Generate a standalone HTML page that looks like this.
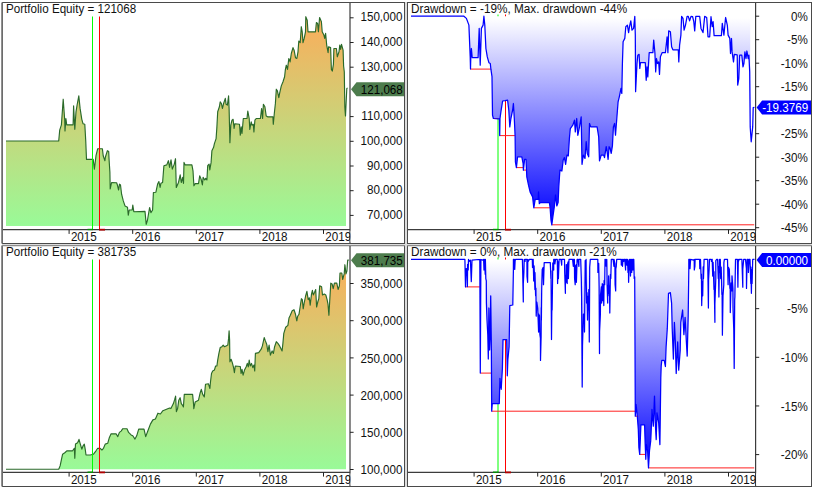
<!DOCTYPE html>
<html><head><meta charset="utf-8"><title>Portfolio charts</title>
<style>html,body{margin:0;padding:0;background:#fff;}body{width:814px;height:490px;overflow:hidden;font-family:"Liberation Sans",sans-serif;}svg{display:block;}text{font-family:"Liberation Sans",sans-serif;}</style></head><body>
<svg width="814" height="490" viewBox="0 0 814 490">
<defs>
<linearGradient id="gE1" gradientUnits="userSpaceOnUse" x1="0" y1="10" x2="0" y2="226"><stop offset="0" stop-color="#ffaa58"/><stop offset="1" stop-color="#99fa98"/></linearGradient>
<linearGradient id="gE2" gradientUnits="userSpaceOnUse" x1="0" y1="253" x2="0" y2="469"><stop offset="0" stop-color="#ffaa58"/><stop offset="1" stop-color="#99fa98"/></linearGradient>
<linearGradient id="gD1" gradientUnits="userSpaceOnUse" x1="0" y1="18" x2="0" y2="224"><stop offset="0" stop-color="#ffffff"/><stop offset="1" stop-color="#0000ff"/></linearGradient>
<linearGradient id="gD2" gradientUnits="userSpaceOnUse" x1="0" y1="261" x2="0" y2="468"><stop offset="0" stop-color="#ffffff"/><stop offset="1" stop-color="#0000ff"/></linearGradient>
</defs>
<rect x="0" y="0" width="814" height="490" fill="#fff"/>
<rect x="404" y="2" width="4" height="485" fill="#dcdcdc"/>
<rect x="2" y="243" width="810" height="3" fill="#dcdcdc"/>
<rect x="2.5" y="2.5" width="402" height="241" fill="#fff" stroke="#4a4a4a" stroke-width="1"/>
<line x1="2.1" y1="2.5" x2="2.1" y2="243.5" stroke="#6e6e6e" stroke-width="1.7"/>
<polygon points="6.0,141.0 58.7,141.0 59.7,130.2 61.4,124.8 63.2,99.2 64.7,120.0 65.0,131.0 65.9,118.5 66.7,124.8 73.1,124.8 73.6,105.9 74.8,129.3 76.0,111.8 77.1,105.0 78.8,95.9 80.1,108.4 81.8,119.3 83.1,123.8 84.8,124.3 85.7,140.0 86.5,159.4 93.2,159.4 94.4,169.1 96.0,155.7 97.7,148.7 102.4,148.7 103.2,155.7 104.9,160.7 105.4,157.0 107.4,150.7 108.7,151.5 109.1,159.9 109.9,172.4 110.2,189.0 111.6,182.5 116.6,182.8 117.4,185.0 118.6,190.0 119.5,184.1 120.5,185.0 121.6,194.2 123.3,200.9 125.0,205.9 127.5,207.2 128.3,215.1 129.2,210.0 132.2,210.0 132.8,205.0 133.8,211.7 145.0,211.4 146.2,224.3 147.5,220.0 149.6,207.5 150.9,212.6 152.6,210.0 153.4,192.5 155.9,192.2 157.6,184.1 158.9,181.6 160.1,187.5 160.9,183.3 162.6,182.5 163.9,165.7 166.8,164.9 168.4,160.7 169.6,167.4 171.0,159.9 172.3,169.1 174.3,164.1 175.5,158.7 176.3,187.5 178.5,182.5 180.2,174.9 181.3,182.5 182.7,177.4 183.5,183.3 184.0,162.4 185.2,164.9 191.9,164.9 193.0,170.8 193.9,185.8 195.2,183.6 198.5,183.6 199.7,175.8 201.1,179.1 202.4,185.0 203.1,177.4 204.7,180.0 205.7,178.3 206.9,180.0 207.7,165.7 209.1,164.1 209.8,169.9 211.1,162.4 211.9,150.7 213.6,147.3 214.4,143.6 216.1,138.6 216.9,126.9 217.7,111.8 219.4,106.8 220.2,101.8 221.4,103.5 222.4,108.5 223.6,103.5 225.3,98.4 226.1,104.3 227.4,105.1 228.6,95.9 229.1,108.5 229.9,142.7 230.8,125.2 232.0,120.2 233.1,119.3 234.1,128.5 234.8,123.8 239.5,124.3 240.3,135.2 241.2,126.9 242.0,133.5 243.3,118.5 247.0,118.5 247.8,111.0 249.2,118.5 249.8,129.4 251.2,121.8 252.0,125.2 253.3,124.3 253.9,131.9 254.9,120.2 256.2,118.5 260.4,118.5 261.6,108.5 262.6,118.5 263.4,104.3 264.9,106.8 266.2,116.0 267.6,116.8 272.9,116.8 273.3,124.3 274.3,113.5 275.4,103.4 276.3,89.2 277.4,90.9 278.8,97.6 279.6,93.4 281.3,85.9 283.0,81.7 284.6,76.7 285.4,69.4 286.3,65.2 287.5,69.4 288.8,58.5 290.1,61.9 291.3,53.5 293.0,47.6 294.1,50.2 295.5,57.7 296.8,58.5 298.0,51.8 298.8,41.0 300.2,42.6 301.3,26.7 302.2,31.8 303.0,42.6 304.2,38.4 305.5,31.8 305.8,16.7 307.2,20.1 308.0,31.8 315.5,31.8 316.4,22.6 317.6,23.4 318.4,31.8 319.6,17.5 321.4,21.7 322.2,31.8 323.9,35.1 324.7,38.4 325.6,33.4 326.7,45.1 328.1,52.7 328.6,46.8 330.6,47.6 331.4,69.4 332.3,71.1 333.4,64.4 333.9,48.5 336.4,48.5 337.3,56.8 339.0,51.8 339.8,45.1 340.6,49.3 341.5,44.3 343.1,50.2 343.6,66.0 344.3,71.9 344.8,106.9 345.5,116.0 346.0,105.2 346.0,226.0 6.0,226.0" fill="url(#gE1)"/>
<polyline points="6.0,141.0 58.7,141.0 59.7,130.2 61.4,124.8 63.2,99.2 64.7,120.0 65.0,131.0 65.9,118.5 66.7,124.8 73.1,124.8 73.6,105.9 74.8,129.3 76.0,111.8 77.1,105.0 78.8,95.9 80.1,108.4 81.8,119.3 83.1,123.8 84.8,124.3 85.7,140.0 86.5,159.4 93.2,159.4 94.4,169.1 96.0,155.7 97.7,148.7 102.4,148.7 103.2,155.7 104.9,160.7 105.4,157.0 107.4,150.7 108.7,151.5 109.1,159.9 109.9,172.4 110.2,189.0 111.6,182.5 116.6,182.8 117.4,185.0 118.6,190.0 119.5,184.1 120.5,185.0 121.6,194.2 123.3,200.9 125.0,205.9 127.5,207.2 128.3,215.1 129.2,210.0 132.2,210.0 132.8,205.0 133.8,211.7 145.0,211.4 146.2,224.3 147.5,220.0 149.6,207.5 150.9,212.6 152.6,210.0 153.4,192.5 155.9,192.2 157.6,184.1 158.9,181.6 160.1,187.5 160.9,183.3 162.6,182.5 163.9,165.7 166.8,164.9 168.4,160.7 169.6,167.4 171.0,159.9 172.3,169.1 174.3,164.1 175.5,158.7 176.3,187.5 178.5,182.5 180.2,174.9 181.3,182.5 182.7,177.4 183.5,183.3 184.0,162.4 185.2,164.9 191.9,164.9 193.0,170.8 193.9,185.8 195.2,183.6 198.5,183.6 199.7,175.8 201.1,179.1 202.4,185.0 203.1,177.4 204.7,180.0 205.7,178.3 206.9,180.0 207.7,165.7 209.1,164.1 209.8,169.9 211.1,162.4 211.9,150.7 213.6,147.3 214.4,143.6 216.1,138.6 216.9,126.9 217.7,111.8 219.4,106.8 220.2,101.8 221.4,103.5 222.4,108.5 223.6,103.5 225.3,98.4 226.1,104.3 227.4,105.1 228.6,95.9 229.1,108.5 229.9,142.7 230.8,125.2 232.0,120.2 233.1,119.3 234.1,128.5 234.8,123.8 239.5,124.3 240.3,135.2 241.2,126.9 242.0,133.5 243.3,118.5 247.0,118.5 247.8,111.0 249.2,118.5 249.8,129.4 251.2,121.8 252.0,125.2 253.3,124.3 253.9,131.9 254.9,120.2 256.2,118.5 260.4,118.5 261.6,108.5 262.6,118.5 263.4,104.3 264.9,106.8 266.2,116.0 267.6,116.8 272.9,116.8 273.3,124.3 274.3,113.5 275.4,103.4 276.3,89.2 277.4,90.9 278.8,97.6 279.6,93.4 281.3,85.9 283.0,81.7 284.6,76.7 285.4,69.4 286.3,65.2 287.5,69.4 288.8,58.5 290.1,61.9 291.3,53.5 293.0,47.6 294.1,50.2 295.5,57.7 296.8,58.5 298.0,51.8 298.8,41.0 300.2,42.6 301.3,26.7 302.2,31.8 303.0,42.6 304.2,38.4 305.5,31.8 305.8,16.7 307.2,20.1 308.0,31.8 315.5,31.8 316.4,22.6 317.6,23.4 318.4,31.8 319.6,17.5 321.4,21.7 322.2,31.8 323.9,35.1 324.7,38.4 325.6,33.4 326.7,45.1 328.1,52.7 328.6,46.8 330.6,47.6 331.4,69.4 332.3,71.1 333.4,64.4 333.9,48.5 336.4,48.5 337.3,56.8 339.0,51.8 339.8,45.1 340.6,49.3 341.5,44.3 343.1,50.2 343.6,66.0 344.3,71.9 344.8,106.9 345.5,116.0 346.0,105.2 346.8,88.5 347.6,88.1" fill="none" stroke="#2a6a2a" stroke-width="1.15" stroke-linejoin="round"/>
<line x1="92.5" y1="16.5" x2="92.5" y2="229.7" stroke="#00ff00" stroke-width="1"/>
<line x1="99.5" y1="16.5" x2="99.5" y2="229.7" stroke="#ff0000" stroke-width="1"/>
<line x1="3" y1="229.7" x2="350" y2="229.7" stroke="#3c3c3c" stroke-width="1.2"/>
<line x1="350" y1="3" x2="350" y2="243" stroke="#3c3c3c" stroke-width="1.2"/>
<line x1="87.5" y1="229.5" x2="93.0" y2="229.5" stroke="#009000" stroke-width="1.4"/>
<line x1="99.0" y1="229.7" x2="105.0" y2="229.7" stroke="#b00000" stroke-width="1.8"/>
<line x1="69.1" y1="229.7" x2="69.1" y2="233.89999999999998" stroke="#222" stroke-width="1"/>
<text transform="translate(70.90,241.10) scale(0.895,1)" font-size="13" fill="#111" text-anchor="start">2015</text>
<line x1="132.7" y1="229.7" x2="132.7" y2="233.89999999999998" stroke="#222" stroke-width="1"/>
<text transform="translate(134.50,241.10) scale(0.895,1)" font-size="13" fill="#111" text-anchor="start">2016</text>
<line x1="196.3" y1="229.7" x2="196.3" y2="233.89999999999998" stroke="#222" stroke-width="1"/>
<text transform="translate(198.10,241.10) scale(0.895,1)" font-size="13" fill="#111" text-anchor="start">2017</text>
<line x1="259.9" y1="229.7" x2="259.9" y2="233.89999999999998" stroke="#222" stroke-width="1"/>
<text transform="translate(261.70,241.10) scale(0.895,1)" font-size="13" fill="#111" text-anchor="start">2018</text>
<line x1="323.5" y1="229.7" x2="323.5" y2="233.89999999999998" stroke="#222" stroke-width="1"/>
<text transform="translate(325.30,241.10) scale(0.895,1)" font-size="13" fill="#111" text-anchor="start">2019</text>
<rect x="350.6" y="230.7" width="20" height="11.800000000000011" fill="#fff"/>
<line x1="350" y1="17.8" x2="353.6" y2="17.8" stroke="#222" stroke-width="1"/>
<text transform="translate(402.50,21.45) scale(0.895,1)" font-size="13" fill="#111" text-anchor="end">150,000</text>
<line x1="350" y1="42.5" x2="353.6" y2="42.5" stroke="#222" stroke-width="1"/>
<text transform="translate(402.50,46.15) scale(0.895,1)" font-size="13" fill="#111" text-anchor="end">140,000</text>
<line x1="350" y1="67.2" x2="353.6" y2="67.2" stroke="#222" stroke-width="1"/>
<text transform="translate(402.50,70.85) scale(0.895,1)" font-size="13" fill="#111" text-anchor="end">130,000</text>
<line x1="350" y1="116.6" x2="353.6" y2="116.6" stroke="#222" stroke-width="1"/>
<text transform="translate(402.50,120.25) scale(0.895,1)" font-size="13" fill="#111" text-anchor="end">110,000</text>
<line x1="350" y1="141.3" x2="353.6" y2="141.3" stroke="#222" stroke-width="1"/>
<text transform="translate(402.50,144.95) scale(0.895,1)" font-size="13" fill="#111" text-anchor="end">100,000</text>
<line x1="350" y1="166.0" x2="353.6" y2="166.0" stroke="#222" stroke-width="1"/>
<text transform="translate(402.50,169.65) scale(0.895,1)" font-size="13" fill="#111" text-anchor="end">90,000</text>
<line x1="350" y1="190.70000000000002" x2="353.6" y2="190.70000000000002" stroke="#222" stroke-width="1"/>
<text transform="translate(402.50,194.35) scale(0.895,1)" font-size="13" fill="#111" text-anchor="end">80,000</text>
<line x1="350" y1="215.4" x2="353.6" y2="215.4" stroke="#222" stroke-width="1"/>
<text transform="translate(402.50,219.05) scale(0.895,1)" font-size="13" fill="#111" text-anchor="end">70,000</text>
<polygon points="351,89.2 356.5,82.2 404,82.2 404,96.2 356.5,96.2" fill="#4d7c4d"/>
<text transform="translate(402.80,93.85) scale(0.895,1)" font-size="13" fill="#000" text-anchor="end">121,068</text>
<text transform="translate(6.00,13.30) scale(0.895,1)" font-size="13" fill="#111" text-anchor="start">Portfolio Equity = 121068</text>
<rect x="407.5" y="2.5" width="404" height="241" fill="#fff" stroke="#4a4a4a" stroke-width="1"/>
<line x1="498" y1="14.5" x2="498" y2="229.7" stroke="#00ff00" stroke-width="1"/>
<line x1="505.5" y1="14.5" x2="505.5" y2="229.7" stroke="#ff0000" stroke-width="1"/>
<polygon points="411.0,16.2 411.0,16.2 463.9,16.2 466.4,18.4 468.9,25.1 470.2,56.9 470.5,69.1 470.8,56.9 471.4,48.5 472.2,57.7 478.1,57.7 479.2,28.4 480.2,65.2 481.4,28.4 483.1,25.1 483.9,16.2 484.8,25.1 485.9,48.5 487.3,56.9 488.9,62.7 490.3,63.5 490.9,69.2 492.0,76.7 492.5,115.2 493.4,118.5 498.4,118.9 499.4,118.9 499.7,135.6 500.0,118.5 500.9,111.8 502.6,101.0 505.1,100.6 507.6,100.1 508.8,110.2 509.8,126.9 510.9,118.5 512.6,110.2 513.4,103.5 514.3,118.5 515.1,135.9 515.4,161.8 516.4,167.6 517.6,156.8 521.8,156.8 523.1,163.4 523.4,170.1 524.6,159.3 526.0,159.3 526.8,176.8 528.5,185.2 530.1,191.9 532.6,196.9 533.8,207.8 535.2,199.4 538.2,199.4 538.5,191.9 539.3,203.6 540.2,202.7 549.4,202.7 550.1,207.6 551.0,220.1 551.8,224.8 553.1,215.1 554.3,206.8 555.5,195.0 556.8,205.9 558.1,202.6 558.8,186.7 559.9,170.1 561.9,171.0 563.2,160.1 564.4,157.6 565.6,164.3 566.9,155.1 568.3,155.9 569.4,138.4 570.3,128.6 572.8,125.2 574.5,120.2 575.3,131.9 576.7,118.5 577.8,135.3 579.5,126.9 581.2,116.9 582.0,164.3 583.3,155.1 585.0,158.4 586.2,141.7 587.3,153.4 588.7,156.8 589.5,123.5 590.7,126.9 597.1,126.9 598.7,136.9 599.5,160.9 601.2,155.1 603.7,155.1 604.5,157.6 606.2,146.7 607.1,151.7 608.1,159.3 609.1,146.7 610.1,148.4 611.2,153.4 612.4,145.9 613.4,126.9 614.6,123.5 615.5,135.2 616.8,118.5 618.1,101.8 619.3,96.8 621.0,88.4 621.8,93.4 622.4,63.5 623.1,41.8 624.8,38.4 625.8,26.7 627.4,25.1 628.6,32.6 629.5,26.7 630.8,20.9 632.0,30.1 633.6,28.4 634.8,16.4 635.3,35.1 635.6,91.7 637.0,63.5 637.8,55.2 639.1,54.3 639.8,68.5 640.5,62.7 645.3,62.7 646.2,80.3 647.0,66.9 647.8,76.9 649.2,52.7 652.9,52.7 653.7,40.1 654.9,52.7 655.7,71.9 656.5,58.5 657.5,63.5 658.7,61.9 659.5,74.4 660.4,56.8 662.1,52.7 665.4,52.7 667.1,36.8 667.9,52.7 668.7,30.9 670.4,31.8 671.6,46.8 672.9,49.8 678.3,49.8 678.8,61.9 679.6,45.1 680.9,35.1 681.6,16.4 683.0,18.4 684.1,30.1 685.5,25.1 687.1,16.4 688.3,16.4 689.6,20.9 691.0,16.4 692.6,16.7 693.8,21.7 694.7,30.9 695.8,16.4 699.7,16.4 701.0,28.4 703.0,32.6 704.7,16.4 706.7,17.5 708.0,36.8 709.7,36.8 711.0,16.7 712.2,26.7 713.1,21.7 714.1,35.6 721.4,35.6 722.3,23.4 723.9,35.1 725.6,17.5 727.3,25.1 728.1,35.1 729.8,38.4 730.5,53.5 731.5,38.5 732.1,51.9 733.5,61.9 734.3,54.4 737.2,54.9 737.7,85.1 738.8,78.6 739.7,55.2 741.8,55.2 743.0,66.9 743.9,63.6 744.9,51.9 746.0,58.6 746.9,51.0 748.2,58.6 748.9,55.2 749.7,71.9 750.2,126.9 750.2,16.2" fill="url(#gD1)"/>
<line x1="470.7" y1="69.1" x2="490.9" y2="69.1" stroke="#ff2020" stroke-width="1"/>
<line x1="493.6" y1="118.5" x2="498.4" y2="118.5" stroke="#ff2020" stroke-width="1"/>
<line x1="499.9" y1="135.6" x2="515.1" y2="135.6" stroke="#ff2020" stroke-width="1"/>
<line x1="516.6" y1="167.6" x2="523.3" y2="167.6" stroke="#ff2020" stroke-width="1"/>
<line x1="523.6" y1="170.1" x2="526.5" y2="170.1" stroke="#ff2020" stroke-width="1"/>
<line x1="534.0" y1="207.8" x2="550.1" y2="207.8" stroke="#ff2020" stroke-width="1"/>
<line x1="552.0" y1="224.8" x2="754.2" y2="224.8" stroke="#ff2020" stroke-width="1"/>
<polyline points="411.0,16.2 463.9,16.2 466.4,18.4 468.9,25.1 470.2,56.9 470.5,69.1 470.8,56.9 471.4,48.5 472.2,57.7 478.1,57.7 479.2,28.4 480.2,65.2 481.4,28.4 483.1,25.1 483.9,16.2 484.8,25.1 485.9,48.5 487.3,56.9 488.9,62.7 490.3,63.5 490.9,69.2 492.0,76.7 492.5,115.2 493.4,118.5 498.4,118.9 499.4,118.9 499.7,135.6 500.0,118.5 500.9,111.8 502.6,101.0 505.1,100.6 507.6,100.1 508.8,110.2 509.8,126.9 510.9,118.5 512.6,110.2 513.4,103.5 514.3,118.5 515.1,135.9 515.4,161.8 516.4,167.6 517.6,156.8 521.8,156.8 523.1,163.4 523.4,170.1 524.6,159.3 526.0,159.3 526.8,176.8 528.5,185.2 530.1,191.9 532.6,196.9 533.8,207.8 535.2,199.4 538.2,199.4 538.5,191.9 539.3,203.6 540.2,202.7 549.4,202.7 550.1,207.6 551.0,220.1 551.8,224.8 553.1,215.1 554.3,206.8 555.5,195.0 556.8,205.9 558.1,202.6 558.8,186.7 559.9,170.1 561.9,171.0 563.2,160.1 564.4,157.6 565.6,164.3 566.9,155.1 568.3,155.9 569.4,138.4 570.3,128.6 572.8,125.2 574.5,120.2 575.3,131.9 576.7,118.5 577.8,135.3 579.5,126.9 581.2,116.9 582.0,164.3 583.3,155.1 585.0,158.4 586.2,141.7 587.3,153.4 588.7,156.8 589.5,123.5 590.7,126.9 597.1,126.9 598.7,136.9 599.5,160.9 601.2,155.1 603.7,155.1 604.5,157.6 606.2,146.7 607.1,151.7 608.1,159.3 609.1,146.7 610.1,148.4 611.2,153.4 612.4,145.9 613.4,126.9 614.6,123.5 615.5,135.2 616.8,118.5 618.1,101.8 619.3,96.8 621.0,88.4 621.8,93.4 622.4,63.5 623.1,41.8 624.8,38.4 625.8,26.7 627.4,25.1 628.6,32.6 629.5,26.7 630.8,20.9 632.0,30.1 633.6,28.4 634.8,16.4 635.3,35.1 635.6,91.7 637.0,63.5 637.8,55.2 639.1,54.3 639.8,68.5 640.5,62.7 645.3,62.7 646.2,80.3 647.0,66.9 647.8,76.9 649.2,52.7 652.9,52.7 653.7,40.1 654.9,52.7 655.7,71.9 656.5,58.5 657.5,63.5 658.7,61.9 659.5,74.4 660.4,56.8 662.1,52.7 665.4,52.7 667.1,36.8 667.9,52.7 668.7,30.9 670.4,31.8 671.6,46.8 672.9,49.8 678.3,49.8 678.8,61.9 679.6,45.1 680.9,35.1 681.6,16.4 683.0,18.4 684.1,30.1 685.5,25.1 687.1,16.4 688.3,16.4 689.6,20.9 691.0,16.4 692.6,16.7 693.8,21.7 694.7,30.9 695.8,16.4 699.7,16.4 701.0,28.4 703.0,32.6 704.7,16.4 706.7,17.5 708.0,36.8 709.7,36.8 711.0,16.7 712.2,26.7 713.1,21.7 714.1,35.6 721.4,35.6 722.3,23.4 723.9,35.1 725.6,17.5 727.3,25.1 728.1,35.1 729.8,38.4 730.5,53.5 731.5,38.5 732.1,51.9 733.5,61.9 734.3,54.4 737.2,54.9 737.7,85.1 738.8,78.6 739.7,55.2 741.8,55.2 743.0,66.9 743.9,63.6 744.9,51.9 746.0,58.6 746.9,51.0 748.2,58.6 748.9,55.2 749.7,71.9 750.2,126.9 751.2,141.8 752.7,126.9 753.2,107.7 754.4,107.4" fill="none" stroke="#0000ff" stroke-width="1.25" stroke-linejoin="round"/>
<line x1="408" y1="229.7" x2="755.6" y2="229.7" stroke="#3c3c3c" stroke-width="1.2"/>
<line x1="755.6" y1="3" x2="755.6" y2="243" stroke="#3c3c3c" stroke-width="1.2"/>
<line x1="493" y1="229.5" x2="498.5" y2="229.5" stroke="#009000" stroke-width="1.4"/>
<line x1="505.0" y1="229.7" x2="511.0" y2="229.7" stroke="#b00000" stroke-width="1.8"/>
<line x1="474.1" y1="229.7" x2="474.1" y2="233.89999999999998" stroke="#222" stroke-width="1"/>
<text transform="translate(475.90,241.10) scale(0.895,1)" font-size="13" fill="#111" text-anchor="start">2015</text>
<line x1="537.7" y1="229.7" x2="537.7" y2="233.89999999999998" stroke="#222" stroke-width="1"/>
<text transform="translate(539.50,241.10) scale(0.895,1)" font-size="13" fill="#111" text-anchor="start">2016</text>
<line x1="601.3" y1="229.7" x2="601.3" y2="233.89999999999998" stroke="#222" stroke-width="1"/>
<text transform="translate(603.10,241.10) scale(0.895,1)" font-size="13" fill="#111" text-anchor="start">2017</text>
<line x1="664.9" y1="229.7" x2="664.9" y2="233.89999999999998" stroke="#222" stroke-width="1"/>
<text transform="translate(666.70,241.10) scale(0.895,1)" font-size="13" fill="#111" text-anchor="start">2018</text>
<line x1="728.5" y1="229.7" x2="728.5" y2="233.89999999999998" stroke="#222" stroke-width="1"/>
<text transform="translate(730.30,241.10) scale(0.895,1)" font-size="13" fill="#111" text-anchor="start">2019</text>
<rect x="756.2" y="230.7" width="20" height="11.800000000000011" fill="#fff"/>
<line x1="755.6" y1="16.2" x2="759.2" y2="16.2" stroke="#222" stroke-width="1"/>
<text transform="translate(807.80,20.85) scale(0.895,1)" font-size="13" fill="#111" text-anchor="end">0%</text>
<line x1="755.6" y1="39.7" x2="759.2" y2="39.7" stroke="#222" stroke-width="1"/>
<text transform="translate(807.80,44.35) scale(0.895,1)" font-size="13" fill="#111" text-anchor="end">-5%</text>
<line x1="755.6" y1="63.2" x2="759.2" y2="63.2" stroke="#222" stroke-width="1"/>
<text transform="translate(807.80,67.85) scale(0.895,1)" font-size="13" fill="#111" text-anchor="end">-10%</text>
<line x1="755.6" y1="86.7" x2="759.2" y2="86.7" stroke="#222" stroke-width="1"/>
<text transform="translate(807.80,91.35) scale(0.895,1)" font-size="13" fill="#111" text-anchor="end">-15%</text>
<line x1="755.6" y1="133.7" x2="759.2" y2="133.7" stroke="#222" stroke-width="1"/>
<text transform="translate(807.80,138.35) scale(0.895,1)" font-size="13" fill="#111" text-anchor="end">-25%</text>
<line x1="755.6" y1="157.2" x2="759.2" y2="157.2" stroke="#222" stroke-width="1"/>
<text transform="translate(807.80,161.85) scale(0.895,1)" font-size="13" fill="#111" text-anchor="end">-30%</text>
<line x1="755.6" y1="180.7" x2="759.2" y2="180.7" stroke="#222" stroke-width="1"/>
<text transform="translate(807.80,185.35) scale(0.895,1)" font-size="13" fill="#111" text-anchor="end">-35%</text>
<line x1="755.6" y1="204.2" x2="759.2" y2="204.2" stroke="#222" stroke-width="1"/>
<text transform="translate(807.80,208.85) scale(0.895,1)" font-size="13" fill="#111" text-anchor="end">-40%</text>
<line x1="755.6" y1="227.7" x2="759.2" y2="227.7" stroke="#222" stroke-width="1"/>
<text transform="translate(807.80,232.35) scale(0.895,1)" font-size="13" fill="#111" text-anchor="end">-45%</text>
<polygon points="756.6,107.6 762.1,100.6 811,100.6 811,114.6 762.1,114.6" fill="#0000ff"/>
<text transform="translate(808.10,112.25) scale(0.895,1)" font-size="13" fill="#fff" text-anchor="end">-19.3769</text>
<text transform="translate(411.00,13.30) scale(0.906,1)" font-size="13" fill="#111" text-anchor="start">Drawdown = -19%, Max. drawdown -44%</text>
<rect x="2.5" y="245.5" width="402" height="241" fill="#fff" stroke="#4a4a4a" stroke-width="1"/>
<line x1="2.1" y1="245.5" x2="2.1" y2="486.5" stroke="#6e6e6e" stroke-width="1.7"/>
<line x1="2" y1="245.6" x2="405" y2="245.6" stroke="#8c8c8c" stroke-width="1.3"/>
<polygon points="6.0,469.2 58.7,469.2 60.1,465.9 62.6,454.2 65.1,452.5 66.8,450.8 72.6,450.8 74.3,448.3 74.8,458.3 75.5,444.1 77.6,442.8 79.0,439.4 80.1,443.3 81.8,449.2 83.1,445.8 84.3,444.1 85.2,449.2 86.0,455.0 90.2,455.0 93.5,454.2 96.0,450.8 97.7,448.3 100.2,448.3 101.9,450.0 103.5,448.3 105.2,444.1 107.7,443.3 109.4,437.4 111.1,433.8 116.1,433.8 117.8,436.6 119.4,432.4 121.1,431.1 122.8,428.7 127.0,428.7 128.6,432.4 131.1,434.9 132.8,435.8 135.0,439.1 136.7,435.8 138.7,429.1 144.0,429.1 145.7,436.6 147.9,430.8 150.4,424.1 152.9,419.9 155.4,419.0 157.9,413.2 160.4,414.0 162.9,410.7 167.1,409.0 169.6,408.0 170.9,408.6 173.4,403.6 174.7,399.4 175.6,396.1 176.4,411.6 177.6,408.6 178.8,400.2 180.1,397.7 181.3,403.6 182.6,405.3 183.4,406.9 184.3,394.4 192.6,394.4 193.5,403.6 193.8,408.6 195.2,401.9 198.5,400.2 200.2,392.7 201.3,389.4 202.7,394.4 204.3,396.9 205.5,384.3 208.5,383.8 209.9,388.5 210.5,381.8 211.5,373.5 212.7,371.0 214.4,370.1 215.6,366.0 216.9,366.0 217.7,360.1 218.9,353.4 220.2,347.6 221.9,346.7 223.2,345.1 224.4,346.7 226.1,345.9 227.8,345.1 228.6,338.4 229.1,330.8 229.6,340.0 229.9,361.8 231.1,359.3 232.3,362.6 233.6,367.6 234.4,372.6 235.3,366.0 240.3,366.5 241.1,373.5 242.0,369.3 243.1,375.2 244.5,370.1 246.2,366.8 247.3,363.4 248.3,366.8 249.2,360.1 250.3,366.0 251.5,363.4 252.8,367.6 254.0,365.1 254.7,371.0 255.4,353.4 258.7,352.6 261.2,349.2 262.4,345.9 264.2,337.5 265.4,340.9 266.7,344.2 267.9,351.7 269.1,345.1 270.4,355.1 272.1,350.9 273.4,353.4 274.6,346.7 276.3,341.7 277.9,343.4 279.6,345.9 282.1,350.9 282.9,343.4 283.8,333.3 285.7,327.2 287.9,325.4 289.0,318.0 290.3,315.3 292.2,310.7 294.0,309.7 295.5,314.3 296.8,320.8 297.7,316.2 299.0,314.3 300.1,307.0 301.4,298.7 302.3,299.6 303.2,308.8 304.1,303.3 305.6,296.0 306.9,291.4 308.2,299.6 309.3,297.8 310.2,305.1 311.5,294.1 312.4,290.4 313.3,295.0 314.6,292.3 315.7,289.5 316.6,307.0 317.9,301.5 318.8,298.7 319.7,285.8 321.6,286.8 322.5,295.0 324.3,294.1 325.8,295.0 327.1,299.6 328.0,304.2 328.9,315.3 329.9,297.8 330.8,283.1 332.1,284.0 333.2,288.6 334.4,283.1 336.8,283.1 338.1,289.5 339.4,285.8 340.0,273.0 341.8,273.0 342.7,279.4 344.2,273.9 344.9,264.7 346.0,273.9 346.0,469.3 6.0,469.3" fill="url(#gE2)"/>
<polyline points="6.0,469.2 58.7,469.2 60.1,465.9 62.6,454.2 65.1,452.5 66.8,450.8 72.6,450.8 74.3,448.3 74.8,458.3 75.5,444.1 77.6,442.8 79.0,439.4 80.1,443.3 81.8,449.2 83.1,445.8 84.3,444.1 85.2,449.2 86.0,455.0 90.2,455.0 93.5,454.2 96.0,450.8 97.7,448.3 100.2,448.3 101.9,450.0 103.5,448.3 105.2,444.1 107.7,443.3 109.4,437.4 111.1,433.8 116.1,433.8 117.8,436.6 119.4,432.4 121.1,431.1 122.8,428.7 127.0,428.7 128.6,432.4 131.1,434.9 132.8,435.8 135.0,439.1 136.7,435.8 138.7,429.1 144.0,429.1 145.7,436.6 147.9,430.8 150.4,424.1 152.9,419.9 155.4,419.0 157.9,413.2 160.4,414.0 162.9,410.7 167.1,409.0 169.6,408.0 170.9,408.6 173.4,403.6 174.7,399.4 175.6,396.1 176.4,411.6 177.6,408.6 178.8,400.2 180.1,397.7 181.3,403.6 182.6,405.3 183.4,406.9 184.3,394.4 192.6,394.4 193.5,403.6 193.8,408.6 195.2,401.9 198.5,400.2 200.2,392.7 201.3,389.4 202.7,394.4 204.3,396.9 205.5,384.3 208.5,383.8 209.9,388.5 210.5,381.8 211.5,373.5 212.7,371.0 214.4,370.1 215.6,366.0 216.9,366.0 217.7,360.1 218.9,353.4 220.2,347.6 221.9,346.7 223.2,345.1 224.4,346.7 226.1,345.9 227.8,345.1 228.6,338.4 229.1,330.8 229.6,340.0 229.9,361.8 231.1,359.3 232.3,362.6 233.6,367.6 234.4,372.6 235.3,366.0 240.3,366.5 241.1,373.5 242.0,369.3 243.1,375.2 244.5,370.1 246.2,366.8 247.3,363.4 248.3,366.8 249.2,360.1 250.3,366.0 251.5,363.4 252.8,367.6 254.0,365.1 254.7,371.0 255.4,353.4 258.7,352.6 261.2,349.2 262.4,345.9 264.2,337.5 265.4,340.9 266.7,344.2 267.9,351.7 269.1,345.1 270.4,355.1 272.1,350.9 273.4,353.4 274.6,346.7 276.3,341.7 277.9,343.4 279.6,345.9 282.1,350.9 282.9,343.4 283.8,333.3 285.7,327.2 287.9,325.4 289.0,318.0 290.3,315.3 292.2,310.7 294.0,309.7 295.5,314.3 296.8,320.8 297.7,316.2 299.0,314.3 300.1,307.0 301.4,298.7 302.3,299.6 303.2,308.8 304.1,303.3 305.6,296.0 306.9,291.4 308.2,299.6 309.3,297.8 310.2,305.1 311.5,294.1 312.4,290.4 313.3,295.0 314.6,292.3 315.7,289.5 316.6,307.0 317.9,301.5 318.8,298.7 319.7,285.8 321.6,286.8 322.5,295.0 324.3,294.1 325.8,295.0 327.1,299.6 328.0,304.2 328.9,315.3 329.9,297.8 330.8,283.1 332.1,284.0 333.2,288.6 334.4,283.1 336.8,283.1 338.1,289.5 339.4,285.8 340.0,273.0 341.8,273.0 342.7,279.4 344.2,273.9 344.9,264.7 346.0,273.9 346.9,271.1 347.7,260.1 348.8,260.1" fill="none" stroke="#2a6a2a" stroke-width="1.15" stroke-linejoin="round"/>
<line x1="92.5" y1="259.5" x2="92.5" y2="472.4" stroke="#00ff00" stroke-width="1"/>
<line x1="99.5" y1="259.5" x2="99.5" y2="472.4" stroke="#ff0000" stroke-width="1"/>
<line x1="3" y1="472.4" x2="350" y2="472.4" stroke="#3c3c3c" stroke-width="1.2"/>
<line x1="350" y1="246" x2="350" y2="486" stroke="#3c3c3c" stroke-width="1.2"/>
<line x1="87.5" y1="472.2" x2="93.0" y2="472.2" stroke="#009000" stroke-width="1.4"/>
<line x1="99.0" y1="472.4" x2="105.0" y2="472.4" stroke="#b00000" stroke-width="1.8"/>
<line x1="69.1" y1="472.4" x2="69.1" y2="476.59999999999997" stroke="#222" stroke-width="1"/>
<text transform="translate(70.90,484.20) scale(0.895,1)" font-size="13" fill="#111" text-anchor="start">2015</text>
<line x1="132.7" y1="472.4" x2="132.7" y2="476.59999999999997" stroke="#222" stroke-width="1"/>
<text transform="translate(134.50,484.20) scale(0.895,1)" font-size="13" fill="#111" text-anchor="start">2016</text>
<line x1="196.3" y1="472.4" x2="196.3" y2="476.59999999999997" stroke="#222" stroke-width="1"/>
<text transform="translate(198.10,484.20) scale(0.895,1)" font-size="13" fill="#111" text-anchor="start">2017</text>
<line x1="259.9" y1="472.4" x2="259.9" y2="476.59999999999997" stroke="#222" stroke-width="1"/>
<text transform="translate(261.70,484.20) scale(0.895,1)" font-size="13" fill="#111" text-anchor="start">2018</text>
<line x1="323.5" y1="472.4" x2="323.5" y2="476.59999999999997" stroke="#222" stroke-width="1"/>
<text transform="translate(325.30,484.20) scale(0.895,1)" font-size="13" fill="#111" text-anchor="start">2019</text>
<rect x="350.6" y="473.4" width="20" height="12.100000000000023" fill="#fff"/>
<line x1="350" y1="283.5" x2="353.6" y2="283.5" stroke="#222" stroke-width="1"/>
<text transform="translate(402.50,288.15) scale(0.895,1)" font-size="13" fill="#111" text-anchor="end">350,000</text>
<line x1="350" y1="320.7" x2="353.6" y2="320.7" stroke="#222" stroke-width="1"/>
<text transform="translate(402.50,325.35) scale(0.895,1)" font-size="13" fill="#111" text-anchor="end">300,000</text>
<line x1="350" y1="357.9" x2="353.6" y2="357.9" stroke="#222" stroke-width="1"/>
<text transform="translate(402.50,362.55) scale(0.895,1)" font-size="13" fill="#111" text-anchor="end">250,000</text>
<line x1="350" y1="395.1" x2="353.6" y2="395.1" stroke="#222" stroke-width="1"/>
<text transform="translate(402.50,399.75) scale(0.895,1)" font-size="13" fill="#111" text-anchor="end">200,000</text>
<line x1="350" y1="432.3" x2="353.6" y2="432.3" stroke="#222" stroke-width="1"/>
<text transform="translate(402.50,436.95) scale(0.895,1)" font-size="13" fill="#111" text-anchor="end">150,000</text>
<line x1="350" y1="469.5" x2="353.6" y2="469.5" stroke="#222" stroke-width="1"/>
<text transform="translate(402.50,474.15) scale(0.895,1)" font-size="13" fill="#111" text-anchor="end">100,000</text>
<polygon points="351,260.3 356.5,253.3 404,253.3 404,267.3 356.5,267.3" fill="#4d7c4d"/>
<text transform="translate(402.80,264.95) scale(0.895,1)" font-size="13" fill="#000" text-anchor="end">381,735</text>
<text transform="translate(6.00,256.30) scale(0.895,1)" font-size="13" fill="#111" text-anchor="start">Portfolio Equity = 381735</text>
<rect x="407.5" y="245.5" width="404" height="241" fill="#fff" stroke="#4a4a4a" stroke-width="1"/>
<line x1="407" y1="245.6" x2="812" y2="245.6" stroke="#8c8c8c" stroke-width="1.3"/>
<line x1="498" y1="257.5" x2="498" y2="472.4" stroke="#00ff00" stroke-width="1"/>
<line x1="505.5" y1="257.5" x2="505.5" y2="472.4" stroke="#ff0000" stroke-width="1"/>
<polygon points="411.0,259.4 411.0,259.4 464.9,259.4 465.5,286.9 465.8,268.9 466.7,268.7 467.4,286.6 467.6,264.5 468.2,270.0 468.5,259.4 469.2,261.4 470.4,260.1 471.3,281.6 472.0,260.1 478.4,259.5 479.8,259.5 480.3,373.1 480.9,259.5 482.7,260.1 483.6,259.4 484.0,270.0 484.5,259.4 485.2,274.3 485.4,259.4 485.8,278.6 486.3,280.9 486.4,303.0 487.0,320.0 487.8,335.0 488.3,359.0 488.9,308.0 489.6,350.0 490.2,335.0 490.7,295.8 491.3,340.0 491.7,411.2 492.3,403.5 499.3,403.5 499.9,378.3 501.2,389.3 502.4,368.5 503.0,339.5 506.7,339.5 507.3,375.8 507.9,359.1 509.1,346.9 509.8,305.6 512.8,305.0 513.4,270.0 513.4,259.4 514.3,259.4 514.7,269.4 515.2,259.4 515.3,260.1 516.0,259.4 522.0,259.4 522.4,259.4 522.7,272.4 523.3,301.9 523.3,283.9 523.9,272.4 524.2,259.4 525.1,261.4 525.1,259.4 526.3,259.4 526.9,259.4 527.0,276.1 527.6,282.3 527.8,259.4 528.2,261.4 529.4,259.4 531.3,259.4 532.3,259.4 532.5,267.5 533.2,259.4 533.7,281.0 534.1,265.9 534.9,289.6 535.0,272.5 535.6,295.8 535.9,288.0 536.2,316.1 536.8,302.1 537.7,308.1 538.6,332.1 538.6,314.1 539.5,315.8 539.9,334.6 540.4,338.1 540.5,360.4 541.1,337.0 541.3,307.7 541.4,320.0 541.7,288.4 542.2,269.4 543.1,267.5 543.5,284.7 544.2,262.6 550.3,262.6 550.9,278.6 551.0,270.8 551.5,339.5 551.9,301.8 552.1,310.0 552.5,284.7 552.8,263.0 553.7,270.0 553.7,259.4 554.6,259.4 554.9,263.8 555.5,259.4 556.1,259.4 557.1,259.4 557.3,259.4 557.6,283.5 558.2,261.8 558.4,278.6 559.1,259.4 559.2,259.4 561.0,259.4 561.7,265.1 561.8,259.4 562.3,259.4 564.1,259.4 564.5,259.4 564.7,272.4 565.4,293.3 565.4,275.3 566.0,282.3 566.3,264.6 567.2,283.5 567.2,265.5 568.1,261.8 568.4,278.6 569.0,259.4 572.1,259.4 572.6,259.4 573.3,266.3 573.5,259.4 574.4,259.4 574.6,278.6 575.2,284.7 575.3,266.5 576.2,264.7 576.4,282.3 577.1,259.4 577.6,259.4 578.0,259.4 578.9,266.3 578.9,259.4 579.5,259.4 580.7,259.4 581.3,278.6 581.6,296.7 582.2,387.0 582.5,345.4 582.9,332.0 583.4,314.0 584.3,314.0 584.5,332.0 585.0,284.7 585.2,260.6 585.6,266.3 586.1,259.4 586.2,278.6 586.6,303.1 587.0,292.6 587.5,320.0 587.9,296.3 588.2,310.0 588.7,300.7 588.8,289.6 589.3,342.0 589.6,289.6 589.7,267.3 590.3,259.4 597.3,259.4 597.8,259.4 597.9,272.4 598.7,263.4 599.1,285.9 599.5,353.6 599.6,331.2 600.4,314.0 600.5,295.1 601.4,286.9 601.6,303.1 602.3,283.7 602.8,300.7 603.2,284.7 603.8,305.6 604.1,280.6 604.7,284.7 605.0,259.4 605.3,266.3 605.9,259.4 606.5,266.3 606.8,259.4 607.1,284.7 607.7,303.1 607.7,285.1 608.4,293.3 608.6,275.9 609.2,295.8 609.5,286.4 609.8,313.0 610.4,274.4 610.8,278.6 611.3,259.4 611.4,259.4 612.7,259.4 613.1,259.4 613.9,266.3 614.0,259.4 614.9,263.6 615.1,284.7 615.7,290.9 615.8,268.8 616.3,266.3 616.7,259.4 617.3,259.4 618.8,259.4 619.4,259.4 620.3,259.4 621.2,259.4 621.3,265.1 622.1,259.4 622.5,266.3 623.0,259.4 623.7,261.4 623.9,259.4 624.8,259.4 625.6,270.0 625.7,259.4 626.6,259.4 626.8,265.1 627.5,259.4 628.0,272.4 628.4,261.0 628.6,282.3 629.3,259.4 629.6,270.0 630.2,259.4 630.5,276.1 631.1,259.4 631.7,272.4 632.0,259.4 632.9,270.0 632.9,259.4 633.8,259.4 634.2,278.6 634.7,276.9 634.8,298.2 635.3,416.2 636.1,404.5 637.3,416.2 638.3,429.5 638.9,447.6 639.7,454.4 640.9,424.9 644.6,424.9 645.2,444.6 645.8,459.3 646.4,444.6 647.6,450.7 648.5,467.9 649.5,450.7 650.7,440.9 651.1,432.9 652.0,409.5 653.3,426.2 654.5,396.1 655.3,422.9 656.2,439.6 657.0,412.8 658.7,422.9 659.9,444.6 660.8,377.7 661.2,366.0 661.8,360.4 664.2,360.4 665.4,366.5 666.1,346.9 667.3,328.4 668.5,293.3 670.4,292.7 671.6,303.1 672.2,328.4 673.4,359.1 674.4,322.3 675.3,340.7 676.2,373.5 677.7,341.9 678.7,370.2 680.2,350.5 680.8,322.3 682.6,310.0 683.9,334.6 685.1,317.4 686.3,340.7 687.2,356.1 688.2,316.1 688.8,270.0 688.8,259.4 689.7,259.4 690.0,268.7 690.6,259.4 693.7,260.1 694.2,259.4 694.3,270.0 694.9,266.3 695.1,259.4 696.2,259.4 699.2,259.4 699.6,259.4 699.8,268.7 700.5,259.4 701.1,278.6 701.4,274.1 701.7,305.6 702.3,281.7 702.7,295.8 703.2,267.0 703.5,278.6 704.1,259.4 704.8,259.4 706.6,259.4 707.7,259.4 707.8,266.3 708.4,308.0 708.6,279.1 709.1,270.0 709.5,259.4 710.3,259.4 711.3,259.4 711.5,261.4 712.2,259.4 712.7,276.1 713.1,262.3 714.0,289.6 714.0,271.6 714.9,322.3 714.9,304.3 715.8,278.6 715.8,260.6 716.7,259.4 717.0,259.4 717.6,259.4 718.3,278.6 718.5,266.7 718.9,297.0 719.4,259.4 719.5,272.4 720.1,259.4 720.3,259.4 720.7,278.6 721.2,267.2 721.9,294.5 722.1,292.8 722.4,335.2 723.0,295.6 723.8,284.7 723.9,262.5 724.4,259.4 727.5,259.4 728.1,284.7 728.4,267.3 729.3,269.2 729.9,288.4 730.2,288.5 730.3,312.5 731.1,283.0 731.8,290.9 732.0,275.8 732.9,288.6 733.0,308.0 733.8,330.3 734.2,368.4 734.7,299.4 734.9,297.0 735.5,259.4 736.5,259.4 737.4,259.4 737.9,287.2 738.3,259.4 738.5,261.4 739.2,259.4 741.0,259.4 741.9,259.4 742.8,287.2 742.8,269.2 743.5,261.4 743.7,259.4 744.7,259.4 745.5,259.4 746.4,268.8 746.5,288.4 747.1,259.4 747.3,259.4 748.2,259.4 748.4,272.4 749.1,259.4 749.6,259.4 750.0,259.4 750.8,283.5 750.9,267.1 750.9,259.4" fill="url(#gD2)"/>
<line x1="465.7" y1="286.9" x2="479.9" y2="286.9" stroke="#ff2020" stroke-width="1"/>
<line x1="480.5" y1="373.1" x2="491.5" y2="373.1" stroke="#ff2020" stroke-width="1"/>
<line x1="491.9" y1="411.2" x2="635.3" y2="411.2" stroke="#ff2020" stroke-width="1"/>
<line x1="635.5" y1="416.2" x2="638.3" y2="416.2" stroke="#ff2020" stroke-width="1"/>
<line x1="639.9" y1="454.4" x2="645.6" y2="454.4" stroke="#ff2020" stroke-width="1"/>
<line x1="648.7" y1="467.9" x2="754.2" y2="467.9" stroke="#ff2020" stroke-width="1"/>
<polyline points="411.0,259.4 464.9,259.4 465.5,286.9 465.8,268.9 466.7,268.7 467.4,286.6 467.6,264.5 468.2,270.0 468.5,259.4 469.2,261.4 470.4,260.1 471.3,281.6 472.0,260.1 478.4,259.5 479.8,259.5 480.3,373.1 480.9,259.5 482.7,260.1 483.6,259.4 484.0,270.0 484.5,259.4 485.2,274.3 485.4,259.4 485.8,278.6 486.3,280.9 486.4,303.0 487.0,320.0 487.8,335.0 488.3,359.0 488.9,308.0 489.6,350.0 490.2,335.0 490.7,295.8 491.3,340.0 491.7,411.2 492.3,403.5 499.3,403.5 499.9,378.3 501.2,389.3 502.4,368.5 503.0,339.5 506.7,339.5 507.3,375.8 507.9,359.1 509.1,346.9 509.8,305.6 512.8,305.0 513.4,270.0 513.4,259.4 514.3,259.4 514.7,269.4 515.2,259.4 515.3,260.1 516.0,259.4 522.0,259.4 522.4,259.4 522.7,272.4 523.3,301.9 523.3,283.9 523.9,272.4 524.2,259.4 525.1,261.4 525.1,259.4 526.3,259.4 526.9,259.4 527.0,276.1 527.6,282.3 527.8,259.4 528.2,261.4 529.4,259.4 531.3,259.4 532.3,259.4 532.5,267.5 533.2,259.4 533.7,281.0 534.1,265.9 534.9,289.6 535.0,272.5 535.6,295.8 535.9,288.0 536.2,316.1 536.8,302.1 537.7,308.1 538.6,332.1 538.6,314.1 539.5,315.8 539.9,334.6 540.4,338.1 540.5,360.4 541.1,337.0 541.3,307.7 541.4,320.0 541.7,288.4 542.2,269.4 543.1,267.5 543.5,284.7 544.2,262.6 550.3,262.6 550.9,278.6 551.0,270.8 551.5,339.5 551.9,301.8 552.1,310.0 552.5,284.7 552.8,263.0 553.7,270.0 553.7,259.4 554.6,259.4 554.9,263.8 555.5,259.4 556.1,259.4 557.1,259.4 557.3,259.4 557.6,283.5 558.2,261.8 558.4,278.6 559.1,259.4 559.2,259.4 561.0,259.4 561.7,265.1 561.8,259.4 562.3,259.4 564.1,259.4 564.5,259.4 564.7,272.4 565.4,293.3 565.4,275.3 566.0,282.3 566.3,264.6 567.2,283.5 567.2,265.5 568.1,261.8 568.4,278.6 569.0,259.4 572.1,259.4 572.6,259.4 573.3,266.3 573.5,259.4 574.4,259.4 574.6,278.6 575.2,284.7 575.3,266.5 576.2,264.7 576.4,282.3 577.1,259.4 577.6,259.4 578.0,259.4 578.9,266.3 578.9,259.4 579.5,259.4 580.7,259.4 581.3,278.6 581.6,296.7 582.2,387.0 582.5,345.4 582.9,332.0 583.4,314.0 584.3,314.0 584.5,332.0 585.0,284.7 585.2,260.6 585.6,266.3 586.1,259.4 586.2,278.6 586.6,303.1 587.0,292.6 587.5,320.0 587.9,296.3 588.2,310.0 588.7,300.7 588.8,289.6 589.3,342.0 589.6,289.6 589.7,267.3 590.3,259.4 597.3,259.4 597.8,259.4 597.9,272.4 598.7,263.4 599.1,285.9 599.5,353.6 599.6,331.2 600.4,314.0 600.5,295.1 601.4,286.9 601.6,303.1 602.3,283.7 602.8,300.7 603.2,284.7 603.8,305.6 604.1,280.6 604.7,284.7 605.0,259.4 605.3,266.3 605.9,259.4 606.5,266.3 606.8,259.4 607.1,284.7 607.7,303.1 607.7,285.1 608.4,293.3 608.6,275.9 609.2,295.8 609.5,286.4 609.8,313.0 610.4,274.4 610.8,278.6 611.3,259.4 611.4,259.4 612.7,259.4 613.1,259.4 613.9,266.3 614.0,259.4 614.9,263.6 615.1,284.7 615.7,290.9 615.8,268.8 616.3,266.3 616.7,259.4 617.3,259.4 618.8,259.4 619.4,259.4 620.3,259.4 621.2,259.4 621.3,265.1 622.1,259.4 622.5,266.3 623.0,259.4 623.7,261.4 623.9,259.4 624.8,259.4 625.6,270.0 625.7,259.4 626.6,259.4 626.8,265.1 627.5,259.4 628.0,272.4 628.4,261.0 628.6,282.3 629.3,259.4 629.6,270.0 630.2,259.4 630.5,276.1 631.1,259.4 631.7,272.4 632.0,259.4 632.9,270.0 632.9,259.4 633.8,259.4 634.2,278.6 634.7,276.9 634.8,298.2 635.3,416.2 636.1,404.5 637.3,416.2 638.3,429.5 638.9,447.6 639.7,454.4 640.9,424.9 644.6,424.9 645.2,444.6 645.8,459.3 646.4,444.6 647.6,450.7 648.5,467.9 649.5,450.7 650.7,440.9 651.1,432.9 652.0,409.5 653.3,426.2 654.5,396.1 655.3,422.9 656.2,439.6 657.0,412.8 658.7,422.9 659.9,444.6 660.8,377.7 661.2,366.0 661.8,360.4 664.2,360.4 665.4,366.5 666.1,346.9 667.3,328.4 668.5,293.3 670.4,292.7 671.6,303.1 672.2,328.4 673.4,359.1 674.4,322.3 675.3,340.7 676.2,373.5 677.7,341.9 678.7,370.2 680.2,350.5 680.8,322.3 682.6,310.0 683.9,334.6 685.1,317.4 686.3,340.7 687.2,356.1 688.2,316.1 688.8,270.0 688.8,259.4 689.7,259.4 690.0,268.7 690.6,259.4 693.7,260.1 694.2,259.4 694.3,270.0 694.9,266.3 695.1,259.4 696.2,259.4 699.2,259.4 699.6,259.4 699.8,268.7 700.5,259.4 701.1,278.6 701.4,274.1 701.7,305.6 702.3,281.7 702.7,295.8 703.2,267.0 703.5,278.6 704.1,259.4 704.8,259.4 706.6,259.4 707.7,259.4 707.8,266.3 708.4,308.0 708.6,279.1 709.1,270.0 709.5,259.4 710.3,259.4 711.3,259.4 711.5,261.4 712.2,259.4 712.7,276.1 713.1,262.3 714.0,289.6 714.0,271.6 714.9,322.3 714.9,304.3 715.8,278.6 715.8,260.6 716.7,259.4 717.0,259.4 717.6,259.4 718.3,278.6 718.5,266.7 718.9,297.0 719.4,259.4 719.5,272.4 720.1,259.4 720.3,259.4 720.7,278.6 721.2,267.2 721.9,294.5 722.1,292.8 722.4,335.2 723.0,295.6 723.8,284.7 723.9,262.5 724.4,259.4 727.5,259.4 728.1,284.7 728.4,267.3 729.3,269.2 729.9,288.4 730.2,288.5 730.3,312.5 731.1,283.0 731.8,290.9 732.0,275.8 732.9,288.6 733.0,308.0 733.8,330.3 734.2,368.4 734.7,299.4 734.9,297.0 735.5,259.4 736.5,259.4 737.4,259.4 737.9,287.2 738.3,259.4 738.5,261.4 739.2,259.4 741.0,259.4 741.9,259.4 742.8,287.2 742.8,269.2 743.5,261.4 743.7,259.4 744.7,259.4 745.5,259.4 746.4,268.8 746.5,288.4 747.1,259.4 747.3,259.4 748.2,259.4 748.4,272.4 749.1,259.4 749.6,259.4 750.0,259.4 750.8,283.5 750.9,267.1 751.4,293.3 751.8,269.7 752.1,283.5 752.7,259.4 753.3,259.4 754.5,259.4" fill="none" stroke="#0000ff" stroke-width="1.25" stroke-linejoin="round"/>
<line x1="408" y1="472.4" x2="755.6" y2="472.4" stroke="#3c3c3c" stroke-width="1.2"/>
<line x1="755.6" y1="246" x2="755.6" y2="486" stroke="#3c3c3c" stroke-width="1.2"/>
<line x1="493" y1="472.2" x2="498.5" y2="472.2" stroke="#009000" stroke-width="1.4"/>
<line x1="505.0" y1="472.4" x2="511.0" y2="472.4" stroke="#b00000" stroke-width="1.8"/>
<line x1="474.1" y1="472.4" x2="474.1" y2="476.59999999999997" stroke="#222" stroke-width="1"/>
<text transform="translate(475.90,484.20) scale(0.895,1)" font-size="13" fill="#111" text-anchor="start">2015</text>
<line x1="537.7" y1="472.4" x2="537.7" y2="476.59999999999997" stroke="#222" stroke-width="1"/>
<text transform="translate(539.50,484.20) scale(0.895,1)" font-size="13" fill="#111" text-anchor="start">2016</text>
<line x1="601.3" y1="472.4" x2="601.3" y2="476.59999999999997" stroke="#222" stroke-width="1"/>
<text transform="translate(603.10,484.20) scale(0.895,1)" font-size="13" fill="#111" text-anchor="start">2017</text>
<line x1="664.9" y1="472.4" x2="664.9" y2="476.59999999999997" stroke="#222" stroke-width="1"/>
<text transform="translate(666.70,484.20) scale(0.895,1)" font-size="13" fill="#111" text-anchor="start">2018</text>
<line x1="728.5" y1="472.4" x2="728.5" y2="476.59999999999997" stroke="#222" stroke-width="1"/>
<text transform="translate(730.30,484.20) scale(0.895,1)" font-size="13" fill="#111" text-anchor="start">2019</text>
<rect x="756.2" y="473.4" width="20" height="12.100000000000023" fill="#fff"/>
<line x1="755.6" y1="308.65" x2="759.2" y2="308.65" stroke="#222" stroke-width="1"/>
<text transform="translate(807.80,313.30) scale(0.895,1)" font-size="13" fill="#111" text-anchor="end">-5%</text>
<line x1="755.6" y1="357.3" x2="759.2" y2="357.3" stroke="#222" stroke-width="1"/>
<text transform="translate(807.80,361.95) scale(0.895,1)" font-size="13" fill="#111" text-anchor="end">-10%</text>
<line x1="755.6" y1="405.95000000000005" x2="759.2" y2="405.95000000000005" stroke="#222" stroke-width="1"/>
<text transform="translate(807.80,410.60) scale(0.895,1)" font-size="13" fill="#111" text-anchor="end">-15%</text>
<line x1="755.6" y1="454.6" x2="759.2" y2="454.6" stroke="#222" stroke-width="1"/>
<text transform="translate(807.80,459.25) scale(0.895,1)" font-size="13" fill="#111" text-anchor="end">-20%</text>
<polygon points="756.6,260 762.1,253 811,253 811,267 762.1,267" fill="#0000ff"/>
<text transform="translate(808.10,264.65) scale(0.895,1)" font-size="13" fill="#fff" text-anchor="end">0.00000</text>
<text transform="translate(411.00,256.30) scale(0.906,1)" font-size="13" fill="#111" text-anchor="start">Drawdown = 0%, Max. drawdown -21%</text>
</svg></body></html>
